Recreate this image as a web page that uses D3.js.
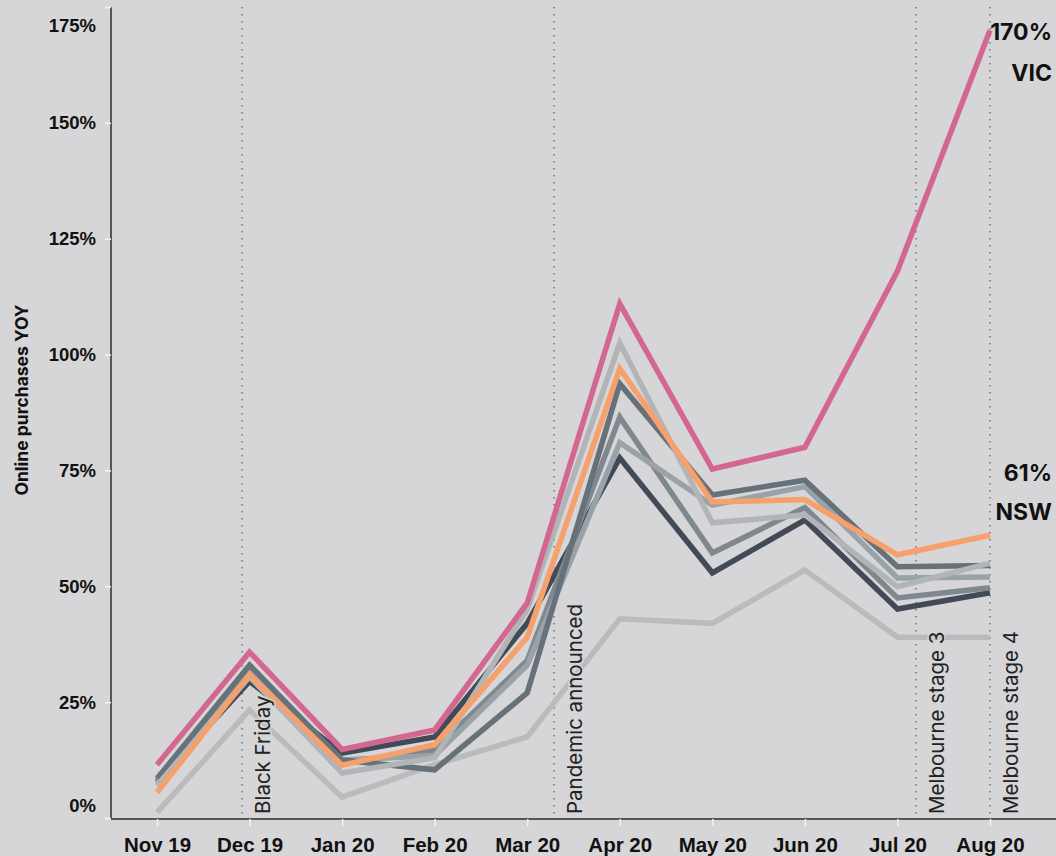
<!DOCTYPE html>
<html>
<head>
<meta charset="utf-8">
<script src="https://cdn.jsdelivr.net/npm/d3@7"></script>
<style>
  body { margin: 0; background: #d6d6d8; }
  svg { display: block; font-family: Inter, "Liberation Sans", Arial, sans-serif; }
  .axis path { stroke: #2b2b2b; stroke-width: 1.5; }
  .axis line { stroke: #f4f4f4; stroke-width: 1.5; }
  .axis text { fill: #111; font-weight: bold; }
</style>
</head>
<body>
<svg id="chart" width="1056" height="856"></svg>
<script>
const months = ['Nov 19', 'Dec 19', 'Jan 20', 'Feb 20', 'Mar 20', 'Apr 20', 'May 20', 'Jun 20', 'Jul 20', 'Aug 20'];
const yTicks = [0, 25, 50, 75, 100, 125, 150, 175];

// online purchases YOY, % by month
const vic = [11.5, 35.8, 14.8, 19, 46.4, 111, 75.3, 80, 118, 170];
const nsw = [5.5, 30.9, 11.4, 15.8, 39, 97, 68.2, 68.7, 56.8, 61];
const lightA = [7, 30.5, 9.7, 13, 45, 102.5, 63.7, 65.4, 49.9, 55];
const slate = [8.5, 33, 12.5, 10.4, 27, 93.7, 69.7, 72.9, 54.2, 54.5];
const mid = [8, 31.5, 12, 14.7, 34, 86.5, 57.2, 67, 47.5, 49.7];
const lightB = [7.5, 32, 12.5, 13.5, 33, 81, 67.5, 71.5, 51.8, 52];
const navy = [7.8, 29.5, 14, 17.5, 42, 77.7, 52.9, 64.3, 45.1, 48.6];
const pale = [1.2, 23.3, 4.5, 11.5, 17.5, 43, 42, 53.5, 39, 39];

const events = ['Black Friday', 'Pandemic announced', 'Melbourne stage 3', 'Melbourne stage 4'];
const eventPos = [0.92, 4.29, 8.2, 9.0]; // position in month steps

const series = [
  { values: pale, color: '#b9bbbd' },
  { values: navy, color: '#414a56' },
  { values: mid, color: '#7f888e' },
  { values: lightB, color: '#99a2a7' },
  { values: slate, color: '#66717a' },
  { values: lightA, color: '#b1b5b8' },
  { values: nsw, color: '#f6a06c', name: 'NSW' },
  { values: vic, color: '#d3678f', name: 'VIC' }
];

const svg = d3.select('#chart');

const x = d3.scaleLinear().domain([0, months.length - 1]).range([157, 990]);
const y = d3.scaleLinear().domain([0, 175]).range([818, 7]);

// event marker lines
svg.append('g')
  .selectAll('line')
  .data(eventPos)
  .enter()
  .append('line')
  .attr('x1', (d) => x(d)).attr('x2', (d) => x(d))
  .attr('y1', 7).attr('y2', 819)
  .attr('stroke', '#8a8a8c')
  .attr('stroke-width', 2)
  .attr('stroke-dasharray', '1.5,5.5');

// axes
const yAxis = d3.axisLeft(y)
  .tickValues(yTicks)
  .tickSize(6)
  .tickPadding(9)
  .tickFormat((d) => d + '%');

const yg = svg.append('g')
  .attr('class', 'axis')
  .attr('transform', 'translate(111,0)')
  .call(yAxis);
yg.selectAll('text').attr('font-size', 18.5);
yg.selectAll('.tick').filter((d) => d === 175).select('text').attr('dy', '1.35em');
yg.selectAll('.tick').filter((d) => d === 0).select('text').attr('dy', '-0.35em');
yg.select('.domain').attr('d', 'M0,7V819');

const xAxis = d3.axisBottom(x)
  .tickValues(d3.range(months.length))
  .tickSize(7)
  .tickPadding(11)
  .tickFormat((i) => months[i]);

const xg = svg.append('g')
  .attr('class', 'axis')
  .attr('transform', 'translate(0,819)')
  .call(xAxis);
xg.selectAll('text').attr('font-size', 20.5);
xg.select('.domain').attr('d', 'M111,0H1056');

svg.append('text')
  .attr('transform', 'translate(28,400) rotate(-90)')
  .attr('text-anchor', 'middle')
  .attr('font-size', 17.5)
  .attr('font-weight', 'bold')
  .attr('fill', '#111')
  .text('Online purchases YOY');

// lines
const line = d3.line()
  .x((d, i) => x(i))
  .y((d) => y(d));

svg.append('g')
  .selectAll('path')
  .data(series)
  .enter()
  .append('path')
  .attr('d', (d) => line(d.values))
  .attr('fill', 'none')
  .attr('stroke', (d) => d.color)
  .attr('stroke-width', 5.5)
  .attr('stroke-linejoin', 'miter');

// event labels sit over the lines with a soft halo
svg.append('g')
  .selectAll('text')
  .data(events)
  .enter()
  .append('text')
  .attr('transform', (d, i) => 'translate(' + (x(eventPos[i]) + 28) + ',814) rotate(-90)')
  .attr('font-size', 20.5)
  .attr('fill', '#222')
  .attr('stroke', '#d6d6d8')
  .attr('stroke-width', 4)
  .attr('stroke-opacity', 0.7)
  .attr('paint-order', 'stroke')
  .text((d) => d);

// end labels
const labelled = [
  { s: series[7], top: 40, bottom: 81 },
  { s: series[6], top: 481, bottom: 520 }
];
labelled.forEach((l) => {
  const last = l.s.values[l.s.values.length - 1];
  svg.append('text')
    .attr('x', 1052).attr('y', l.top)
    .attr('text-anchor', 'end')
    .attr('font-size', 23)
    .attr('font-weight', 'bold')
    .attr('fill', '#111')
    .text(last + '%');
  svg.append('text')
    .attr('x', 1052).attr('y', l.bottom)
    .attr('text-anchor', 'end')
    .attr('font-size', 23)
    .attr('font-weight', 'bold')
    .attr('fill', '#111')
    .text(l.s.name);
});
</script>
</body>
</html>
